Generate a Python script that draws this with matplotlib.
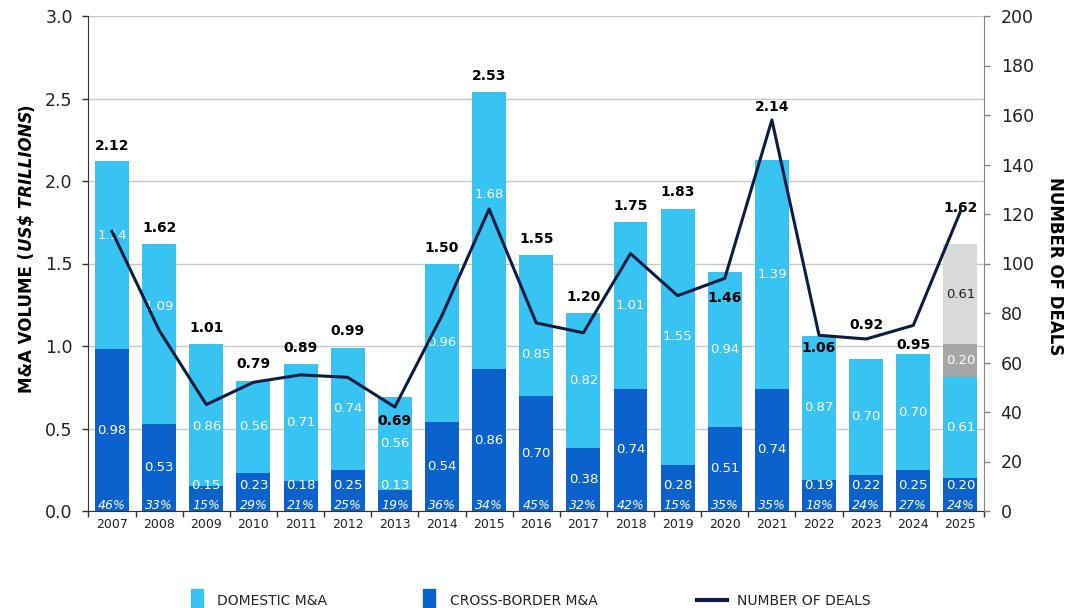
import matplotlib
matplotlib.use("Agg")
import matplotlib.pyplot as plt
from matplotlib.patches import Rectangle
from matplotlib.lines import Line2D
import numpy as np

# ---------------- data ----------------
years = ["2007", "2008", "2009", "2010", "2011", "2012", "2013", "2014", "2015", "2016",
         "2017", "2018", "2019", "2020", "2021", "2022", "2023", "2024", "2025"]
cross_border = [0.98, 0.53, 0.15, 0.23, 0.18, 0.25, 0.13, 0.54, 0.86, 0.70,
                0.38, 0.74, 0.28, 0.51, 0.74, 0.19, 0.22, 0.25, 0.20]
domestic = [1.14, 1.09, 0.86, 0.56, 0.71, 0.74, 0.56, 0.96, 1.68, 0.85,
            0.82, 1.01, 1.55, 0.94, 1.39, 0.87, 0.70, 0.70, 0.61]
totals = [2.12, 1.62, 1.01, 0.79, 0.89, 0.99, 0.69, 1.50, 2.53, 1.55,
          1.20, 1.75, 1.83, 1.46, 2.14, 1.06, 0.92, 0.95, 1.62]
cross_pct = [46, 33, 15, 29, 21, 25, 19, 36, 34, 45, 32, 42, 15, 35, 35, 18, 24, 27, 24]
deals = [113, 73, 43, 52, 55, 54, 42, 79, 122, 76, 72, 104, 87, 94, 158, 71, 69.5, 75, 121]
projected_year = "2025"
projected_cross = 0.20
projected_domestic = 0.61

# ---------------- style ----------------
W, H = 1078, 608
FONT = "DejaVu Sans"
plt.rcParams["font.family"] = [FONT]
C_DOM = "#38C4F2"
C_CROSS = "#0B62CC"
C_LINE = "#0A1E45"
C_PCROSS = "#A6A6A6"
C_PDOM = "#D9D9D9"

fig = plt.figure(figsize=(W / 100, H / 100), dpi=100)
ax = fig.add_axes([88 / W, 1 - 511 / H, (984 - 88) / W, (511 - 16) / H])

x = np.arange(len(years))
bw = 0.72
ax.bar(x, cross_border, width=bw, color=C_CROSS, zorder=2)
ax.bar(x, domestic, bottom=cross_border, width=bw, color=C_DOM, zorder=2)
pi = years.index(projected_year)
base = cross_border[pi] + domestic[pi]
ax.bar(pi, projected_cross, bottom=base, width=bw, color=C_PCROSS, zorder=2)
ax.bar(pi, projected_domestic, bottom=base + projected_cross, width=bw, color=C_PDOM, zorder=2)

ax.set_xlim(-0.51, len(years) - 0.51)
ax.set_ylim(0, 3.0)
ax.set_yticks(np.arange(0, 3.01, 0.5))
ax.set_yticklabels([f"{v:.1f}" for v in np.arange(0, 3.01, 0.5)])
ax.set_xticks(x)
ax.set_xticklabels(years)
ax.set_xticks(np.arange(-0.5, len(years), 1.0), minor=True)
ax.tick_params(axis="x", which="major", length=0, pad=5, labelsize=9, colors="#222222")
ax.tick_params(axis="x", which="minor", length=4, width=1, color="#333333")
ax.tick_params(axis="y", length=4, width=1, color="#333333", pad=7, labelsize=12.5, labelcolor="#222222")
ax.set_axisbelow(True)
ax.yaxis.grid(True, color="#C9C9C9", lw=1)
ax.spines["top"].set_visible(False)
ax.spines["right"].set_visible(False)
ax.spines["left"].set_color("#333333")
ax.spines["bottom"].set_color("#333333")

# in-bar labels
dom_shift = [0.12, 0.165, -0.07, 0, 0, 0, 0, 0, 0.22, -0.175,
             0, 0, 0, 0, 0, 0, 0, 0, 0]
for i in x:
    cb, dm = cross_border[i], domestic[i]
    ax.text(i, max(cb / 2, 0.155), f"{cb:.2f}", color="white", ha="center", va="center",
            fontsize=9.5, zorder=3)
    ax.text(i, cb + dm / 2 + dom_shift[i], f"{dm:.2f}", color="white", ha="center",
            va="center", fontsize=9.5, zorder=3)
    ax.text(i, 0.036, f"{cross_pct[i]}%", color="white", ha="center", va="center",
            fontsize=9, style="italic", zorder=3)
ax.text(pi, base + projected_cross / 2, f"{projected_cross:.2f}", color="white",
        ha="center", va="center", fontsize=9.5, zorder=3)
ax.text(pi, base + projected_cross + projected_domestic / 2, f"{projected_domestic:.2f}",
        color="#222222", ha="center", va="center", fontsize=9.5, zorder=3)

# totals
tot_dy = [15, 16, 16, 17, 16, 17, -24, 16, 16, 16, 16, 16, 17, -26, 53, -12, 34, 9, 36]
tops = [cross_border[i] + domestic[i] for i in x]
tops[pi] = base + projected_cross + projected_domestic
for i in x:
    ax.annotate(f"{totals[i]:.2f}", (i, tops[i]), xytext=(0, tot_dy[i]),
                textcoords="offset pixels", ha="center", va="center",
                fontsize=10, fontweight="bold", color="black", zorder=4)

# deals line
ax2 = ax.twinx()
ax2.plot(x, deals, color=C_LINE, lw=2.2, zorder=5)
ax2.set_ylim(0, 200)
ax2.set_yticks(np.arange(0, 201, 20))
ax2.tick_params(axis="y", length=4, width=1, color="#888888", pad=8, labelsize=12.5,
                labelcolor="#222222")
for s in ["top", "left", "bottom"]:
    ax2.spines[s].set_visible(False)
ax2.spines["right"].set_color("#888888")

# axis titles
fig.canvas.draw()
r = fig.canvas.get_renderer()
pieces = [("M&A VOLUME (", "normal"), ("US$ TRILLIONS", "italic"), (")", "normal")]
objs = []
for txt, st in pieces:
    t = fig.text(0, 0, txt, rotation=90, fontsize=12, fontweight="bold", style=st,
                 ha="center", va="bottom", color="black")
    objs.append(t)
heights = [o.get_window_extent(r).height for o in objs]
total_h = sum(heights)
cy = 248
start = cy + total_h / 2  # pixel y from top where bottom of first piece sits
yb = H - start
for o, h in zip(objs, heights):
    o.set_position((27 / W, yb / H))
    yb += h

fig.text(1055 / W, 1 - 266 / H, "NUMBER OF DEALS", rotation=-90, fontsize=12,
         fontweight="bold", ha="center", va="center", color="black")

# legend
def fx(px):
    return px / W

def fy(py):
    return 1 - py / H

legend_items = [("patch", C_DOM, "DOMESTIC M&A", 191, 217),
                ("patch", C_CROSS, "CROSS-BORDER M&A", 423, 450),
                ("line", C_LINE, "NUMBER OF DEALS", 697, 737)]
for kind, col, lab, hx, tx in legend_items:
    if kind == "patch":
        fig.patches.append(Rectangle((fx(hx), fy(608)), 12 / W, 19 / H, color=col,
                                     transform=fig.transFigure, figure=fig))
    else:
        fig.lines.append(Line2D([fx(hx), fx(hx + 30)], [fy(600), fy(600)], color=col,
                                lw=3, transform=fig.transFigure, figure=fig))
    fig.text(fx(tx), fy(601), lab, fontsize=10, ha="left", va="center", color="#222222")

fig.savefig("out.png", dpi=100)
